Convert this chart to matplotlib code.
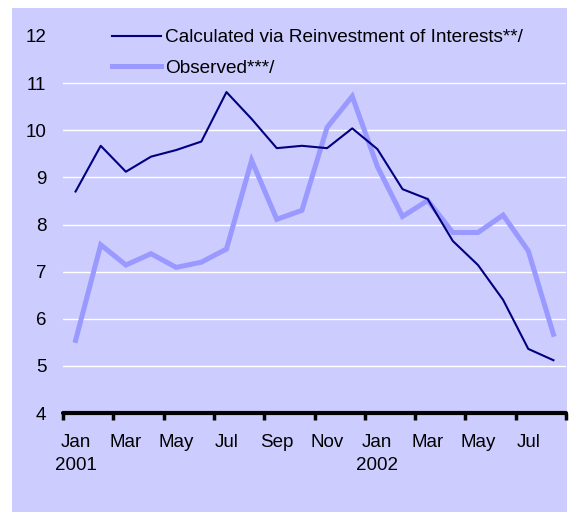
import numpy as np
import matplotlib.pyplot as plt
from matplotlib.patches import Rectangle

plt.rcParams['font.family'] = ['Liberation Sans', 'DejaVu Sans']

# monthly series, Jan 2001 - Aug 2002
months = ["Jan", "Feb", "Mar", "Apr", "May", "Jun", "Jul", "Aug", "Sep", "Oct", "Nov", "Dec",
          "Jan", "Feb", "Mar", "Apr", "May", "Jun", "Jul", "Aug"]
calculated = [8.70, 9.67, 9.12, 9.44, 9.58, 9.76, 10.81, 10.24, 9.62, 9.67,
              9.62, 10.04, 9.60, 8.75, 8.54, 7.65, 7.14, 6.40, 5.36, 5.12]
observed = [5.54, 7.57, 7.14, 7.38, 7.09, 7.20, 7.48, 9.36, 8.11, 8.30,
            10.06, 10.72, 9.23, 8.17, 8.51, 7.83, 7.83, 8.20, 7.44, 5.67]
tick_labels = ["Jan\n2001", "Mar", "May", "Jul", "Sep", "Nov",
               "Jan\n2002", "Mar", "May", "Jul"]

bg = "#CCCCFF"
W, H = 574, 513
fig = plt.figure(figsize=(W / 100, H / 100), dpi=100, facecolor="white")
fig.patches.append(Rectangle((12 / W, 1 / H), 555 / W, 504 / H,
                             transform=fig.transFigure, facecolor=bg,
                             edgecolor="none", zorder=-10))

ax = fig.add_axes([63 / W, 1 - 413 / H, 503 / W, 377 / H])
ax.set_facecolor("none")

x = np.arange(len(months))
ax.plot(x, observed, color="#9999FF", lw=3.6, solid_joinstyle="miter",
        label="Observed***/", zorder=3)
ax.plot(x, calculated, color="#000080", lw=1.5, label="Calculated via Reinvestment of Interests**/",
        zorder=4)

ax.set_xlim(-0.5, len(months) - 0.5)
ax.set_ylim(4, 12)
ax.set_yticks(range(4, 13))
ax.tick_params(axis="y", length=0, pad=12, labelsize=13.5)
ax.grid(axis="y", color="white", lw=1)
ax.get_ygridlines()[-1].set_visible(False)
ax.get_ygridlines()[0].set_visible(False)
ax.set_axisbelow(True)

# ticks at category boundaries, labels centred under every second month
ax.set_xticks(np.arange(-0.5, len(months), 2))
ax.set_xticklabels([])
ax.set_xticks(np.arange(0, len(months), 2), minor=True)
ax.set_xticklabels(tick_labels, minor=True, linespacing=1.45)
ax.tick_params(axis="x", which="major", length=5, width=2.5, color="black")
ax.tick_params(axis="x", which="minor", length=0, pad=15, labelsize=13.5)

for s in ["left", "top", "right"]:
    ax.spines[s].set_visible(False)
ax.spines["bottom"].set_linewidth(3)
ax.spines["bottom"].set_capstyle("round")

handles, labels = ax.get_legend_handles_labels()
ax.legend(handles[::-1], labels[::-1], loc="upper left",
          bbox_to_anchor=(112 / W, 1 - 29 / H), bbox_transform=fig.transFigure,
          frameon=False, fontsize=13.7, handlelength=2.6, handletextpad=0.2,
          labelspacing=0.68, borderpad=0, borderaxespad=0)

fig.savefig("out.png", dpi=100, facecolor="white")
